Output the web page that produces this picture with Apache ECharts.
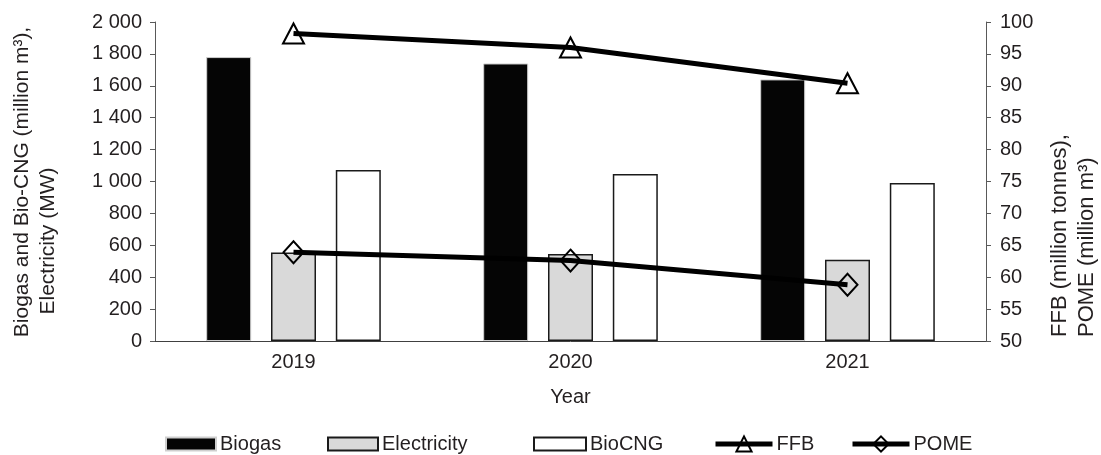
<!DOCTYPE html>
<html>
<head>
<meta charset="utf-8">
<script src="https://cdn.jsdelivr.net/npm/echarts@6/dist/echarts.min.js"></script>
<style>
html,body{margin:0;padding:0;background:#fff;}
#chart{width:1101px;height:455px;}
</style>
</head>
<body>
<div id="chart"></div>
<script>
const categories = ['2019', '2020', '2021'];
const biogas = [1780, 1740, 1640];
const electricity = [555, 545, 510];
const bioCNG = [1072, 1047, 990];
const ffb = [98.2, 96.0, 90.4];
const pome = [63.9, 62.6, 58.8];
const seriesNames = ['Biogas', 'Electricity', 'BioCNG', 'FFB', 'POME'];
const leftTitle = ['Biogas and Bio-CNG (million m\u00b3),', 'Electricity (MW)'];
const rightTitle = ['FFB (million tonnes),', 'POME (million m\u00b3)'];
const xTitle = 'Year';

const FONT = '"Liberation Sans", Arial, sans-serif';
const TXT = '#231f20';

function fmtThousands(v) {
  return String(v).replace(/\B(?=(\d{3})+(?!\d))/g, ' ');
}

const chart = echarts.init(document.getElementById('chart'), null, {renderer: 'canvas'});

const legendBase = {
  orient: 'horizontal',
  top: 429,
  itemGap: 0,
  textStyle: {fontFamily: FONT, fontSize: 20, color: TXT, padding: [0, 0, 0, -1]},
  selectedMode: false
};

chart.setOption({
  animation: false,
  backgroundColor: '#ffffff',
  textStyle: {fontFamily: FONT},
  grid: {left: 155, right: 115, top: 22, bottom: 114, containLabel: false},
  xAxis: {
    type: 'category',
    data: categories,
    name: xTitle,
    nameLocation: 'middle',
    nameGap: 46,
    nameTextStyle: {fontFamily: FONT, fontSize: 20, color: TXT},
    axisLine: {show: true, lineStyle: {color: '#404040', width: 1}},
    axisTick: {show: false},
    axisLabel: {fontFamily: FONT, fontSize: 20, color: TXT, margin: 11}
  },
  yAxis: [
    {
      type: 'value', min: 0, max: 2000, interval: 200,
      splitLine: {show: false},
      axisLine: {show: true, lineStyle: {color: '#595959', width: 1}},
      axisTick: {show: true, inside: false, length: 5, lineStyle: {color: '#595959'}},
      axisLabel: {fontFamily: FONT, fontSize: 20, color: TXT, margin: 13, formatter: fmtThousands}
    },
    {
      type: 'value', min: 50, max: 100, interval: 5, position: 'right',
      splitLine: {show: false},
      axisLine: {show: true, lineStyle: {color: '#595959', width: 1}},
      axisTick: {show: true, inside: false, length: 5, lineStyle: {color: '#595959'}},
      axisLabel: {fontFamily: FONT, fontSize: 20, color: TXT, margin: 14}
    }
  ],
  legend: [
    Object.assign({}, legendBase, {data: [{name: seriesNames[0], icon: 'rect'}], left: 160, itemWidth: 50, itemHeight: 13}),
    Object.assign({}, legendBase, {data: [{name: seriesNames[1], icon: 'rect'}], left: 322, itemWidth: 50, itemHeight: 13}),
    Object.assign({}, legendBase, {data: [{name: seriesNames[2], icon: 'rect'}], left: 528, itemWidth: 52, itemHeight: 13}),
    Object.assign({}, legendBase, {data: [seriesNames[3]], left: 708, itemWidth: 57, itemHeight: 19,
      lineStyle: {width: 5, color: '#000'}}),
    Object.assign({}, legendBase, {data: [seriesNames[4]], left: 845, itemWidth: 57, itemHeight: 19,
      lineStyle: {width: 5, color: '#000'}})
  ],
  series: [
    {
      name: seriesNames[0], type: 'bar', data: biogas, barWidth: 45, barGap: '44%',
      itemStyle: {color: '#050505', borderColor: '#cfcfcf', borderWidth: 1}
    },
    {
      name: seriesNames[1], type: 'bar', data: electricity, barWidth: 45, barGap: '44%',
      itemStyle: {color: '#d9d9d9', borderColor: '#1a1a1a', borderWidth: 1.5}
    },
    {
      name: seriesNames[2], type: 'bar', data: bioCNG, barWidth: 45, barGap: '44%',
      itemStyle: {color: '#ffffff', borderColor: '#1a1a1a', borderWidth: 1.5}
    },
    {
      name: seriesNames[3], type: 'line', yAxisIndex: 1, data: ffb,
      symbol: 'triangle', symbolSize: [21, 20], showAllSymbol: true,
      lineStyle: {color: '#000000', width: 5},
      itemStyle: {color: 'rgba(255,255,255,0)', borderColor: '#000000', borderWidth: 2}
    },
    {
      name: seriesNames[4], type: 'line', yAxisIndex: 1, data: pome,
      symbol: 'diamond', symbolSize: [20, 22], showAllSymbol: true,
      lineStyle: {color: '#000000', width: 5},
      itemStyle: {color: 'rgba(255,255,255,0)', borderColor: '#000000', borderWidth: 2}
    }
  ],
  graphic: [
    {type: 'text', x: 22, y: 182, rotation: Math.PI / 2,
     style: {text: leftTitle[0], font: '21px ' + FONT, fill: TXT, align: 'center', verticalAlign: 'middle'}},
    {type: 'text', x: 48, y: 241, rotation: Math.PI / 2,
     style: {text: leftTitle[1], font: '21px ' + FONT, fill: TXT, align: 'center', verticalAlign: 'middle'}},
    {type: 'text', x: 1060, y: 337, rotation: Math.PI / 2,
     style: {text: rightTitle[0], font: '22px ' + FONT, fill: TXT, align: 'left', verticalAlign: 'middle'}},
    {type: 'text', x: 1087, y: 337, rotation: Math.PI / 2,
     style: {text: rightTitle[1], font: '22px ' + FONT, fill: TXT, align: 'left', verticalAlign: 'middle'}}
  ]
});
</script>
</body>
</html>
